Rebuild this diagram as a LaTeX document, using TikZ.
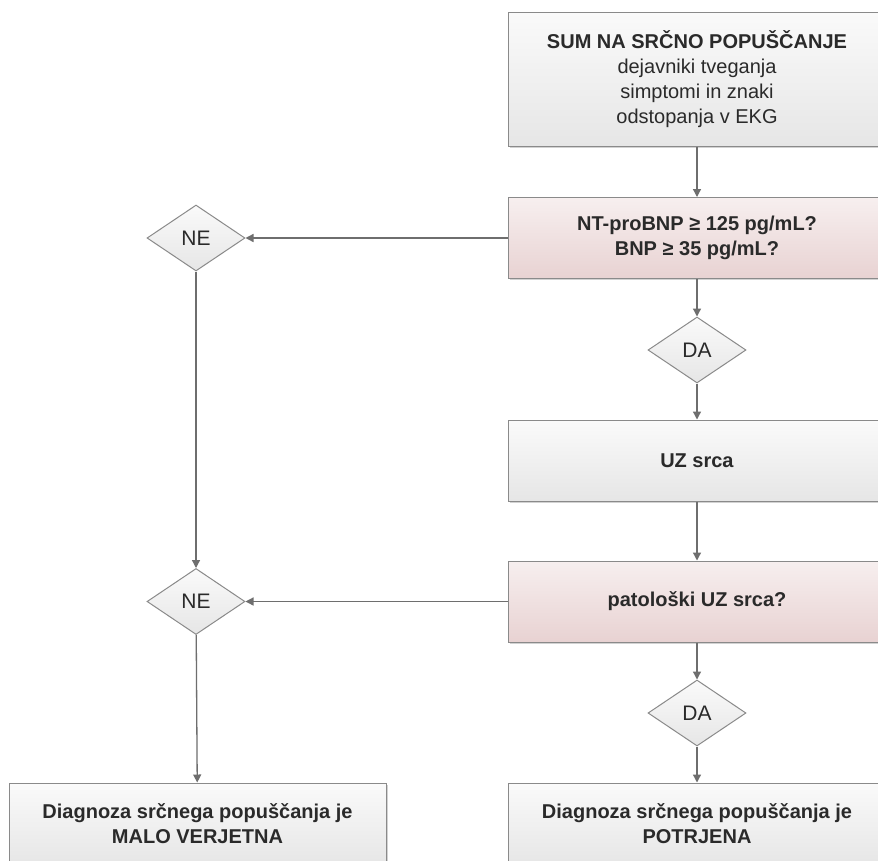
\documentclass[tikz,border=0pt]{standalone}
\usepackage{fontspec}
\setmainfont{Liberation Sans}
\usetikzlibrary{shapes.geometric,arrows.meta,shadows}

\definecolor{edgegray}{HTML}{8A8A8A}
\definecolor{linegray}{HTML}{6E6E6E}
\definecolor{textgray}{HTML}{2A2A2A}
\definecolor{boxtop}{HTML}{FAFAFA}
\definecolor{boxbottom}{HTML}{E6E6E6}
\definecolor{pinktop}{HTML}{F7EFEF}
\definecolor{pinkbottom}{HTML}{E8D2D2}

\begin{document}
\begin{tikzpicture}[x=1pt, y=-1pt,
  every node/.style = {font=\fontsize{20}{25}\selectfont, text=textgray},
  box/.style = {rectangle, draw=edgegray, line width=1pt, align=center,
                minimum width=378pt, minimum height=81pt,
                top color=boxtop, bottom color=boxbottom,
                drop shadow={shadow xshift=1.5pt, shadow yshift=-1.5pt, opacity=0.35}},
  query/.style = {box, top color=pinktop, bottom color=pinkbottom},
  choice/.style = {diamond, draw=edgegray, line width=1pt, inner sep=0pt,
                   minimum width=98pt, minimum height=66pt,
                   top color=boxtop, bottom color=boxbottom,
                   font=\fontsize{21}{25}\selectfont},
  link/.style = {draw=linegray, line width=1.3pt, -{Triangle[length=8pt, width=8pt]}}
  ]
  \useasboundingbox[fill=white] (0,0) rectangle (878,860);

  % right column
  \node[box, minimum height=134pt] (suspect) at (697,79)
    {\textbf{SUM NA SRČNO POPUŠČANJE}\\dejavniki tveganja\\simptomi in znaki\\odstopanja v EKG};
  \node[query] (peptide) at (697,238) {\textbf{NT-proBNP ≥ 125 pg/mL?}\\\textbf{BNP ≥ 35 pg/mL?}};
  \node[choice] (yes1) at (697,350) {DA};
  \node[box] (echo) at (697,460.5) {\textbf{UZ srca}};
  \node[query] (pathology) at (697,601.5) {\textbf{patološki UZ srca?}};
  \node[choice] (yes2) at (697,713) {DA};
  \node[box, minimum height=82pt] (confirmed) at (697,824)
    {\textbf{Diagnoza srčnega popuščanja je}\\\textbf{POTRJENA}};

  % left column
  \node[choice] (no1) at (196,238) {NE};
  \node[choice] (no2) at (196,601.5) {NE};
  \node[box, minimum width=377pt, minimum height=82pt] (unlikely) at (197.5,824)
    {\textbf{Diagnoza srčnega popuščanja je}\\\textbf{MALO VERJETNA}};

  \draw[link] (suspect) -- (peptide);
  \draw[link] (peptide) -- (no1);
  \draw[link] (peptide) -- (yes1);
  \draw[link] (yes1) -- (echo);
  \draw[link] (echo) -- (pathology);
  \draw[link] (pathology) -- (no2);
  \draw[link] (pathology) -- (yes2);
  \draw[link] (yes2) -- (confirmed);
  \draw[link] (no1) -- (no2);
  \draw[link] (no2) -- (unlikely);
\end{tikzpicture}
\end{document}
